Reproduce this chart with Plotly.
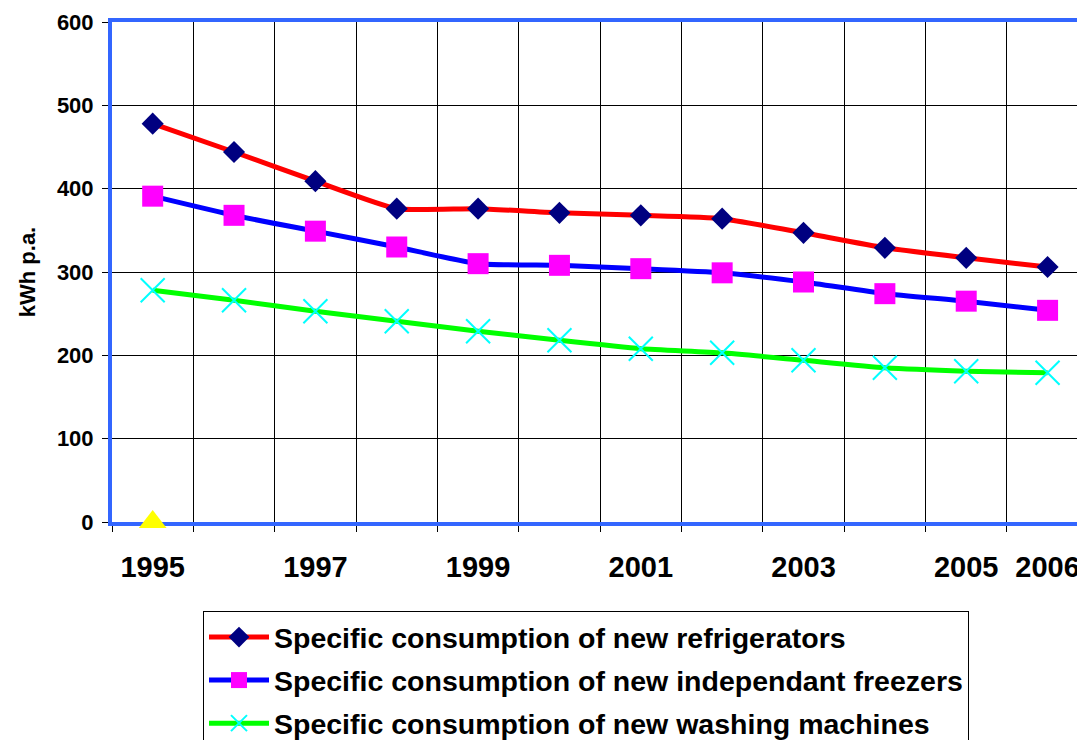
import plotly.graph_objects as go

years = [1995, 1996, 1997, 1998, 1999, 2000, 2001, 2002, 2003, 2004, 2005, 2006]
refrigerators = [478, 444, 409, 376, 376, 371, 368, 364, 347, 329, 317, 306]
freezers = [391, 368, 349, 330, 310, 308, 304, 299, 288, 274, 265, 254]
washing = [278, 266, 253, 241, 229, 218, 208, 203, 194, 185, 181, 179]
marker_year = [1995]
marker_value = [0]

x_tickvals = [1995, 1997, 1999, 2001, 2003, 2005, 2006]
x_ticktext = [str(v) for v in x_tickvals]
x_boundaries = [y - 0.5 for y in years] + [years[-1] + 0.5]
y_tickvals = [0, 100, 200, 300, 400, 500, 600]

names = [
    "Specific consumption of new refrigerators",
    "Specific consumption of new independant freezers",
    "Specific consumption of new washing machines",
]

FONT = "Arial, Liberation Sans, sans-serif"

# page body has an 8px default margin; compensate so the figure fills 1085x740
W, H = 1077, 732
PLOT_L, PLOT_T, PLOT_B = 104, 14, 514

fig = go.Figure()
fig.add_trace(go.Scatter(
    x=years, y=refrigerators, name=names[0], mode="lines+markers",
    line=dict(color="#FF0000", width=5, shape="spline", smoothing=0.5),
    marker=dict(symbol="diamond", size=17, color="#000080"),
    legendgroup="a",
))
fig.add_trace(go.Scatter(
    x=years, y=freezers, name=names[1], mode="lines+markers",
    line=dict(color="#0000FF", width=5, shape="spline", smoothing=0.5),
    marker=dict(symbol="square", size=21, color="#FF00FF"),
    legendgroup="b",
))
fig.add_trace(go.Scatter(
    x=years, y=washing, name=names[2], mode="lines+markers",
    line=dict(color="#00FF00", width=5, shape="spline", smoothing=0.5),
    marker=dict(symbol="x-thin", size=24, color="#00FFFF",
                line=dict(color="#00FFFF", width=2)),
    legendgroup="c",
))
fig.add_trace(go.Scatter(
    x=marker_year, y=marker_value, mode="markers", showlegend=False,
    marker=dict(symbol="triangle-up", size=24, color="#FFFF00"),
    cliponaxis=False,
))

fig.update_layout(
    width=W, height=H,
    margin=dict(l=PLOT_L, r=0, t=PLOT_T, b=H - PLOT_B, autoexpand=False),
    plot_bgcolor="white", paper_bgcolor="white",
    font=dict(family=FONT, color="black"),
    legend=dict(
        x=(195 - PLOT_L) / (W - PLOT_L), y=(PLOT_B - 603) / (PLOT_B - PLOT_T),
        xanchor="left", yanchor="top",
        bgcolor="white", bordercolor="black", borderwidth=1,
        font=dict(family=FONT, size=28.5, color="black", weight="bold"),
        traceorder="grouped", tracegroupgap=3, itemwidth=60,
    ),
    xaxis=dict(
        range=[1994.5, 2006.46], automargin=False, layer="below traces",
        tickmode="array", tickvals=x_tickvals, ticktext=x_ticktext,
        ticks="", showgrid=False, zeroline=False,
        tickfont=dict(family=FONT, size=29, weight="bold"),
        ticklabelstandoff=16,
        showline=True, linecolor="#3366FF", linewidth=4, mirror=True,
        minor=dict(tickmode="array", tickvals=x_boundaries, showgrid=True,
                   gridcolor="black", gridwidth=1, ticks="outside",
                   ticklen=6, tickcolor="black", tickwidth=1),
    ),
    yaxis=dict(
        range=[0, 600], tickmode="array", tickvals=y_tickvals,
        automargin=False, layer="below traces",
        showgrid=True, gridcolor="black", gridwidth=1, zeroline=False,
        ticks="outside", ticklen=6, tickcolor="black", tickwidth=1,
        tickfont=dict(family=FONT, size=22, weight="bold"),
        ticklabelstandoff=4,
        showline=True, linecolor="#3366FF", linewidth=4, mirror=True,
        title=dict(text="kWh p.a.", font=dict(family=FONT, size=22, weight="bold"),
                   standoff=16),
    ),
)

fig.write_html("out.html")
